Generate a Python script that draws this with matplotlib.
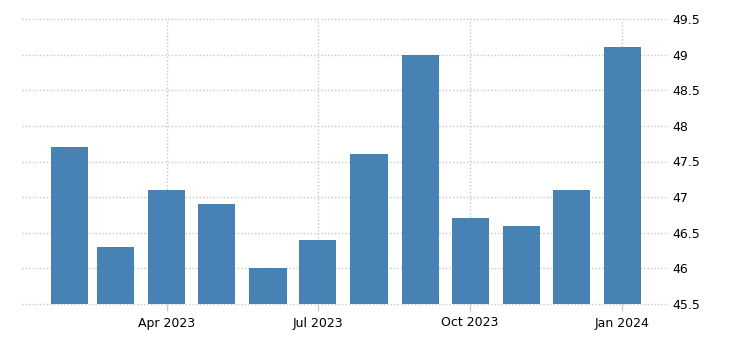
import matplotlib
matplotlib.use("Agg")
import matplotlib.pyplot as plt
import matplotlib.dates as mdates
import numpy as np
import datetime as dt

months = ["2023-02", "2023-03", "2023-04", "2023-05", "2023-06", "2023-07",
          "2023-08", "2023-09", "2023-10", "2023-11", "2023-12", "2024-01"]
values = [47.7, 46.3, 47.1, 46.9, 46.0, 46.4, 47.6, 49.0, 46.7, 46.6, 47.1, 49.1]
xtick_dates = ["2023-04", "2023-07", "2023-10", "2024-01"]
xtick_labels = ["Apr 2023", "Jul 2023", "Oct 2023", "Jan 2024"]
yticks = [45.5, 46, 46.5, 47, 47.5, 48, 48.5, 49, 49.5]
ytick_labels = ["45.5", "46", "46.5", "47", "47.5", "48", "48.5", "49", "49.5"]

def to_date(s):
    y, m = s.split("-")
    return dt.datetime(int(y), int(m), 1)

dates = [to_date(m) for m in months]
xnum = mdates.date2num(dates)

W, H = 730, 351
fig = plt.figure(figsize=(W / 100, H / 100), dpi=100)
ax = fig.add_axes([22 / W, 1 - 304 / H, (668 - 22) / W, (304 - 19) / H])

base = 45.5
ax.bar(xnum, np.array(values) - base, bottom=base, width=22.4,
       color="#4682B4", zorder=3, align="center")

ax.set_ylim(45.5, 49.5)
ax.set_xlim(xnum[0] - 28.5, xnum[-1] + 27.5)

ax.set_yticks(yticks)
ax.set_yticklabels(ytick_labels)
ax.set_xticks(mdates.date2num([to_date(d) for d in xtick_dates]))
ax.set_xticklabels(xtick_labels)

ax.yaxis.tick_right()
ax.tick_params(axis="y", length=0, pad=3, labelsize=9, labelcolor="black")
ax.tick_params(axis="x", length=5, width=1, color="#cccccc", pad=4, labelsize=9,
               labelcolor="black")

for s in ax.spines.values():
    s.set_visible(False)

ax.grid(True, which="major", axis="both", linestyle=(0, (1, 1.5)),
        color="#c8c8c8", linewidth=1, zorder=0)
ax.set_axisbelow(True)
for gl in ax.get_xgridlines() + ax.get_ygridlines():
    gl.set_clip_on(False)

fig.savefig("out.png", dpi=100)
